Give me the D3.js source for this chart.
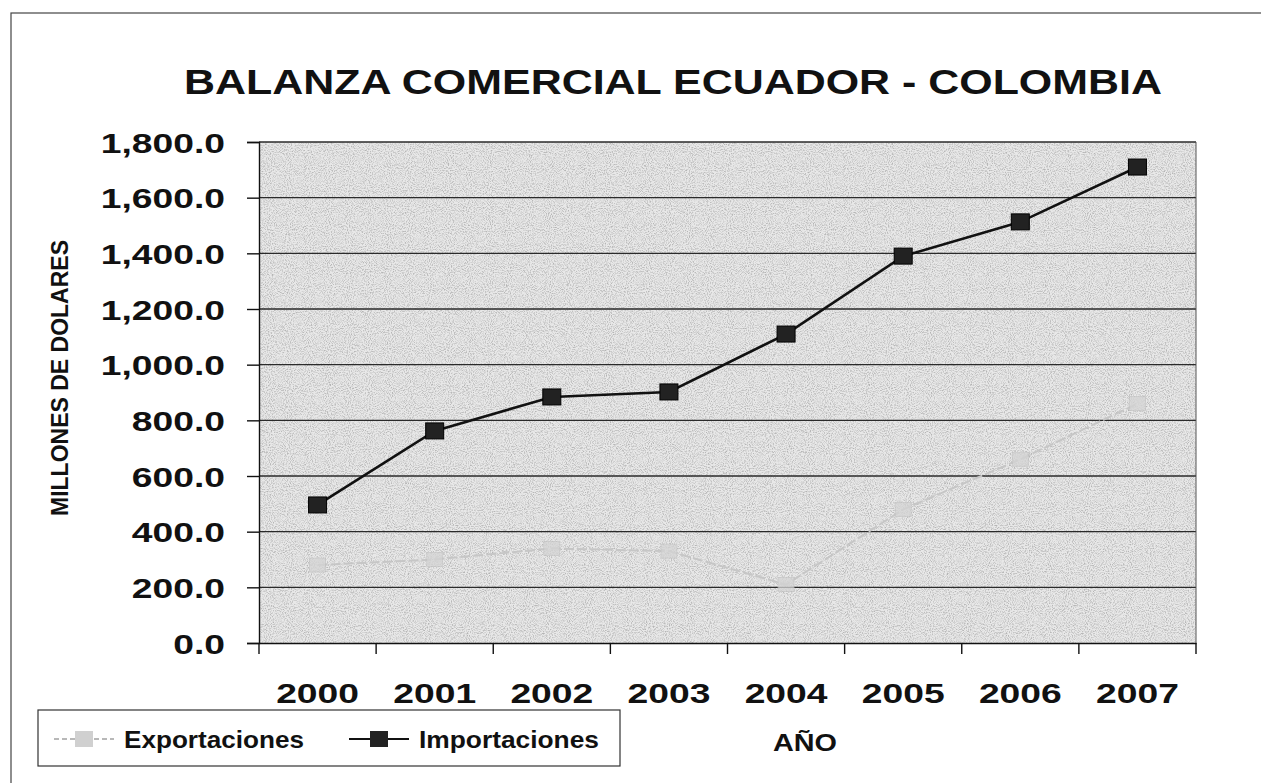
<!DOCTYPE html>
<html>
<head>
<meta charset="utf-8">
<script src="https://cdn.jsdelivr.net/npm/d3@7"></script>
<style>
  body { margin: 0; background: #fff; }
  text { font-family: "Liberation Sans", Arial, sans-serif; }
</style>
</head>
<body>
<script>
var years = ["2000", "2001", "2002", "2003", "2004", "2005", "2006", "2007"];
var exportaciones = [280, 300, 340, 330, 210, 480, 660, 860];
var importaciones = [496, 762, 884, 902, 1110, 1390, 1513, 1710];
var yTicks = [0, 200, 400, 600, 800, 1000, 1200, 1400, 1600, 1800];

var w = 1261, h = 783;
var plotLeft = 259, plotRight = 1196, plotTop = 142, plotBottom = 643;

var svg = d3.select("body").append("svg")
    .attr("width", w)
    .attr("height", h);

// widen bold text a bit, the scanned chart uses a stretched Arial
function stretch(sel, factor) {
    sel.each(function() {
        var len = this.getComputedTextLength();
        d3.select(this)
          .attr("textLength", len * factor)
          .attr("lengthAdjust", "spacingAndGlyphs");
    });
}

// speckled grey texture for the plot area
var defs = svg.append("defs");
var f = defs.append("filter").attr("id", "grain")
    .attr("x", 0).attr("y", 0).attr("width", "100%").attr("height", "100%");
f.append("feTurbulence").attr("type", "fractalNoise")
    .attr("baseFrequency", 0.95).attr("numOctaves", 2).attr("seed", 3);
f.append("feColorMatrix").attr("type", "matrix")
    .attr("values", "0 0 0 0 0.3  0 0 0 0 0.3  0 0 0 0 0.3  0 0 0 -2.6 1.5");
f.append("feComposite").attr("in2", "SourceGraphic").attr("operator", "in");

// outer frame
svg.append("rect")
    .attr("x", 11).attr("y", 13)
    .attr("width", 1300).attr("height", 800)
    .attr("fill", "none").attr("stroke", "#444").attr("stroke-width", 1.2);

// title
svg.append("text")
    .attr("x", 673).attr("y", 94)
    .attr("text-anchor", "middle")
    .attr("textLength", 978).attr("lengthAdjust", "spacingAndGlyphs")
    .attr("fill", "#111")
    .style("font-size", "35px").style("font-weight", "bold")
    .text("BALANZA COMERCIAL ECUADOR - COLOMBIA");

var x = d3.scaleBand().domain(years).range([plotLeft, plotRight]);
var y = d3.scaleLinear().domain([0, 1800]).range([plotBottom, plotTop]);

// plot background
svg.append("rect")
    .attr("x", plotLeft).attr("y", plotTop)
    .attr("width", plotRight - plotLeft).attr("height", plotBottom - plotTop)
    .attr("fill", "#e8e8e8");
svg.append("rect")
    .attr("x", plotLeft).attr("y", plotTop)
    .attr("width", plotRight - plotLeft).attr("height", plotBottom - plotTop)
    .attr("fill", "#fff")
    .attr("filter", "url(#grain)")
    .attr("opacity", 0.6);

// gridlines
svg.append("g")
    .selectAll("line")
    .data(yTicks.filter(d => d > 0))
    .enter()
    .append("line")
    .attr("x1", plotLeft).attr("x2", plotRight)
    .attr("y1", d => y(d)).attr("y2", d => y(d))
    .attr("stroke", "#2a2a2a").attr("stroke-width", 1.4);

// right border of plot
svg.append("line")
    .attr("x1", plotRight).attr("x2", plotRight)
    .attr("y1", plotTop).attr("y2", plotBottom)
    .attr("stroke", "#555").attr("stroke-width", 1);

// y axis
var yAxis = svg.append("g")
    .attr("transform", "translate(" + plotLeft + ",0)")
    .call(d3.axisLeft(y).tickValues(yTicks).tickSize(12).tickPadding(22)
        .tickFormat(d3.format(",.1f")));
yAxis.selectAll("text")
    .style("font-size", "28px").style("font-weight", "bold")
    .attr("fill", "#111").attr("dy", "0.36em")
    .call(stretch, 1.33);
yAxis.selectAll("line, path").attr("stroke", "#111").attr("stroke-width", 1.4);

// x axis, ticks on the category boundaries
var xAxis = svg.append("g")
    .attr("transform", "translate(0," + plotBottom + ")")
    .call(d3.axisBottom(x).tickSize(0));
xAxis.select(".domain").attr("stroke", "#111").attr("stroke-width", 1.4);
xAxis.selectAll("text")
    .attr("y", 60).attr("dy", 0)
    .style("font-size", "28px").style("font-weight", "bold")
    .attr("fill", "#111")
    .call(stretch, 1.33);
xAxis.selectAll(".bound")
    .data(years.map(d => x(d)).concat([plotRight]))
    .enter()
    .append("line")
    .attr("class", "bound")
    .attr("x1", d => d).attr("x2", d => d)
    .attr("y1", 0).attr("y2", 11)
    .attr("stroke", "#111").attr("stroke-width", 1.4);

var cx = d => x(d) + x.bandwidth() / 2;

var line = d3.line()
    .x((d, i) => cx(years[i]))
    .y(d => y(d));

// Exportaciones (very faint in the scan)
svg.append("path")
    .datum(exportaciones)
    .attr("d", line)
    .attr("fill", "none")
    .attr("stroke", "#c6c6c6").attr("stroke-width", 2)
    .attr("stroke-dasharray", "10,3");
svg.selectAll(".exp")
    .data(exportaciones)
    .enter()
    .append("rect")
    .attr("class", "exp")
    .attr("x", (d, i) => cx(years[i]) - 8)
    .attr("y", d => y(d) - 7)
    .attr("width", 16).attr("height", 14)
    .attr("fill", "#d4d4d4").attr("stroke", "#c0c0c0").attr("stroke-width", 0.8)
    .attr("opacity", 0.75);

// Importaciones
svg.append("path")
    .datum(importaciones)
    .attr("d", line)
    .attr("fill", "none")
    .attr("stroke", "#111").attr("stroke-width", 2.6);
svg.selectAll(".imp")
    .data(importaciones)
    .enter()
    .append("rect")
    .attr("class", "imp")
    .attr("x", (d, i) => cx(years[i]) - 9)
    .attr("y", d => y(d) - 8)
    .attr("width", 18).attr("height", 16)
    .attr("fill", "#222").attr("stroke", "#000").attr("stroke-width", 1);

// axis titles
svg.append("text")
    .attr("transform", "translate(68,378) rotate(-90)")
    .attr("text-anchor", "middle")
    .attr("textLength", 276).attr("lengthAdjust", "spacingAndGlyphs")
    .attr("fill", "#111")
    .style("font-size", "24px").style("font-weight", "bold")
    .text("MILLONES DE DOLARES");

svg.append("text")
    .attr("x", 805).attr("y", 751)
    .attr("text-anchor", "middle")
    .attr("fill", "#111")
    .style("font-size", "24px").style("font-weight", "bold")
    .text("AÑO")
    .call(stretch, 1.2);

// legend
var lg = svg.append("g");
lg.append("rect")
    .attr("x", 38).attr("y", 710)
    .attr("width", 582).attr("height", 56)
    .attr("fill", "#fff").attr("stroke", "#333").attr("stroke-width", 1.2);

var legendItems = [
    { name: "Exportaciones", x: 84, line: "#b8b8b8", fill: "#d0d0d0", dash: "5,3" },
    { name: "Importaciones", x: 379, line: "#111", fill: "#222", dash: null }
];
legendItems.forEach(function(it) {
    lg.append("line")
        .attr("x1", it.x - 30).attr("x2", it.x + 30)
        .attr("y1", 739).attr("y2", 739)
        .attr("stroke", it.line).attr("stroke-width", 2)
        .attr("stroke-dasharray", it.dash);
    lg.append("rect")
        .attr("x", it.x - 9).attr("y", 731)
        .attr("width", 18).attr("height", 16)
        .attr("fill", it.fill);
    lg.append("text")
        .attr("x", it.x + 40).attr("y", 748)
        .attr("textLength", 180).attr("lengthAdjust", "spacingAndGlyphs")
        .attr("fill", "#111")
        .style("font-size", "24px").style("font-weight", "bold")
        .text(it.name);
});
</script>
</body>
</html>
